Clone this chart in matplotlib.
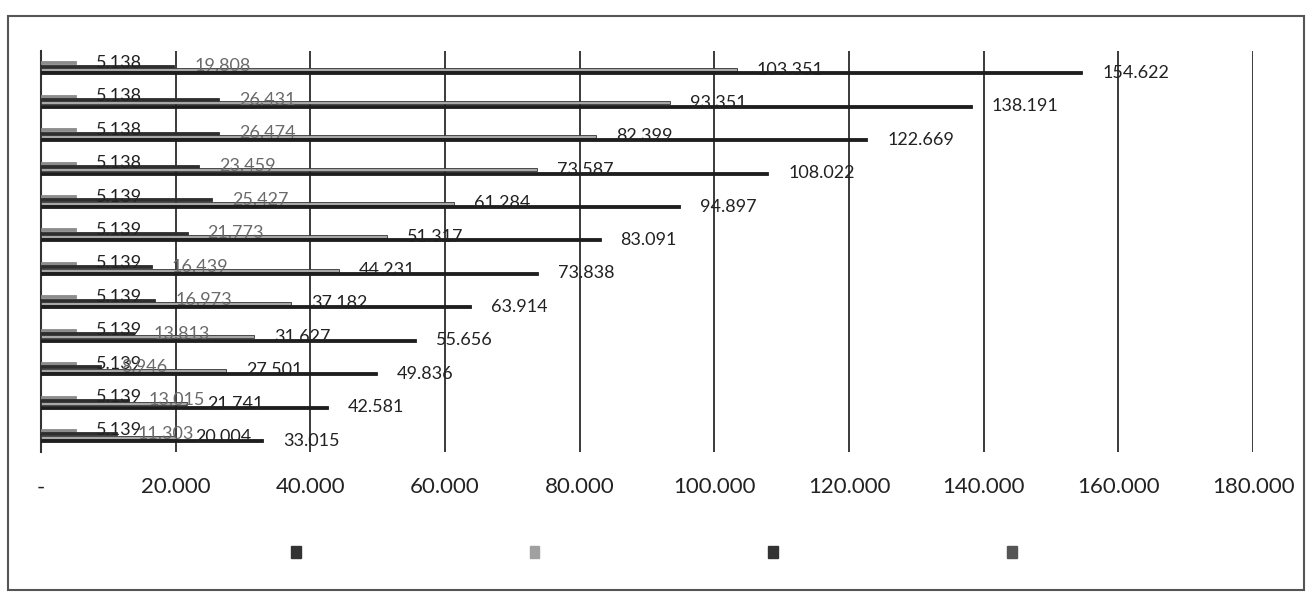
import matplotlib.pyplot as plt
import numpy as np
from matplotlib.patches import Rectangle

# groups listed top to bottom as they appear in the chart
s1 = [154.622, 138.191, 122.669, 108.022, 94.897, 83.091, 73.838, 63.914, 55.656, 49.836, 42.581, 33.015]
s2 = [103.351, 93.351, 82.399, 73.587, 61.284, 51.317, 44.231, 37.182, 31.627, 27.501, 21.741, 20.004]
s3 = [19.808, 26.431, 26.474, 23.459, 25.427, 21.773, 16.439, 16.973, 13.813, 8.946, 13.015, 11.303]
s4 = [5.138, 5.138, 5.138, 5.138, 5.139, 5.139, 5.139, 5.139, 5.139, 5.139, 5.139, 5.139]
x_ticks = [0, 20, 40, 60, 80, 100, 120, 140, 160, 180]

plt.rcParams['font.family'] = ['Lato', 'DejaVu Sans']

fig = plt.figure(figsize=(13.09, 5.95), dpi=100)
ax = fig.add_axes([0.0313, 0.240, 0.926, 0.674])

pos = np.arange(len(s1))
h = 0.09
series = [
    (s4, -0.15, '#8c8c8c', '#8c8c8c', '#222222'),
    (s3, -0.05, '#2e2e2e', '#2e2e2e', '#6a6a6a'),
    (s2, 0.05, '#a8a8a8', '#333333', '#222222'),
    (s1, 0.15, '#1e1e1e', '#1e1e1e', '#222222'),
]
for vals, off, fc, ec, tc in series:
    ax.barh(pos + off, vals, height=h, color=fc, edgecolor=ec, linewidth=0.6, zorder=3)
    for y, v in zip(pos + off, vals):
        ax.annotate(f'{v:.3f}', (v, y), xytext=(20, 0), textcoords='offset pixels',
                    ha='left', va='center', fontsize=13, color=tc, zorder=4)

ax.set_ylim(len(s1) - 0.5, -0.5)
ax.set_xlim(0, 180)
ax.set_xticks(x_ticks)
ax.set_xticklabels(['-' if t == 0 else f'{t:.3f}' for t in x_ticks])
ax.tick_params(axis='x', length=0, pad=18, labelsize=16, labelcolor='#222222')
ax.set_yticks([])
ax.grid(axis='x', color='#3a3a3a', linewidth=1.4, zorder=0)
for side in ['top', 'right', 'bottom']:
    ax.spines[side].set_visible(False)
ax.spines['left'].set_color('#333333')
ax.spines['left'].set_linewidth(1.5)

# legend has no text, only the four colour keys
handles = [Rectangle((0, 0), 1, 1, color=c) for c in ['#333333', '#a0a0a0', '#333333', '#555555']]
fig.legend(handles, [' '] * 4, ncol=4, loc='center left', bbox_to_anchor=(0.2127, 0.072),
           frameon=False, handlelength=0.7, handleheight=1.0, handletextpad=0.8,
           columnspacing=15.44, fontsize=10)

fig.add_artist(Rectangle((0.006, 0.008), 0.99, 0.965, transform=fig.transFigure,
                         fill=False, edgecolor='#555555', linewidth=1.5))

plt.savefig('out.png', dpi=100)
